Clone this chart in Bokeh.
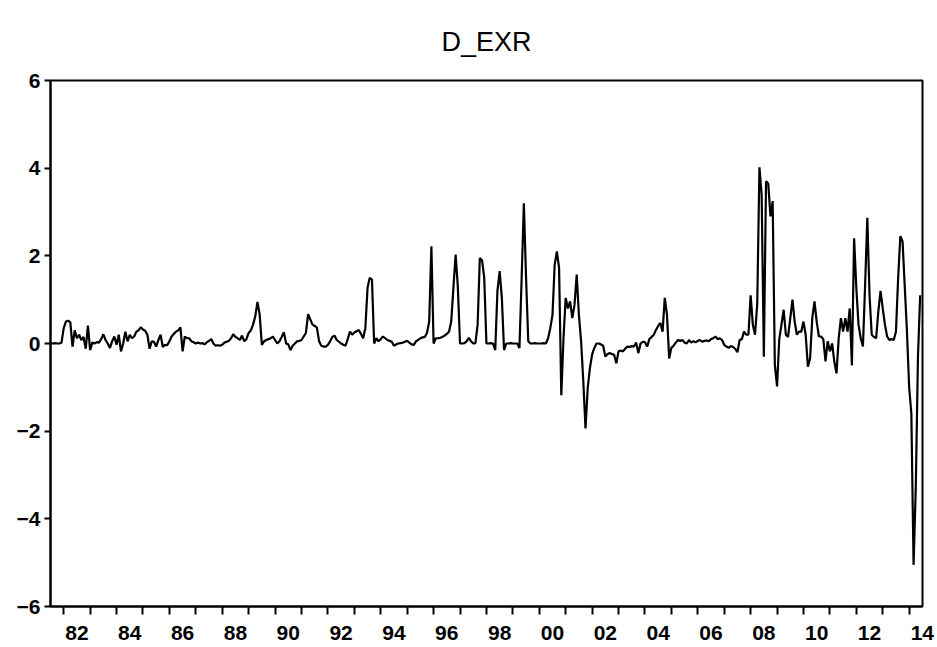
from bokeh.plotting import figure
from bokeh.models import FixedTicker, Range1d, ColumnDataSource, CustomJSTickFormatter
from bokeh.embed import file_html
from bokeh.resources import INLINE

# D_EXR, monthly, first observation 1981M07
start_year = 1981
start_month = 7

exr_1981_1989 = [
    0.0, 0.0, 0.01, 0.0, 0.0, 0.02,
    0.35, 0.5, 0.52, 0.48, -0.07, 0.3, 0.12, 0.2, 0.08, 0.15, -0.12, 0.41,
    -0.15, 0.02, 0.0, 0.03, 0.02, 0.1, 0.21, 0.08, 0.0, -0.1, 0.05, 0.16,
    -0.03, 0.2, -0.18, 0.0, 0.27, 0.05, 0.2, 0.12, 0.16, 0.27, 0.3, 0.37,
    0.32, 0.29, 0.2, -0.12, 0.05, 0.04, -0.07, 0.08, 0.2, -0.08, -0.03, -0.04,
    0.05, 0.16, 0.22, 0.27, 0.3, 0.37, -0.18, 0.16, 0.12, 0.12, 0.05, 0.03,
    0.0, 0.02, 0.0, 0.01, -0.02, 0.03, 0.06, 0.1, 0.0, -0.05, -0.04, -0.05,
    -0.03, 0.02, 0.04, 0.06, 0.12, 0.21, 0.15, 0.12, 0.08, 0.18, 0.05, 0.1,
    0.24, 0.3, 0.43, 0.62, 0.95, 0.66, -0.03, 0.05, 0.08, 0.1, 0.12, 0.16,
]
exr_1990_1999 = [
    0.08, 0.0, 0.05, 0.15, 0.26, 0.0, -0.02, -0.15, -0.05, 0.0, 0.05, 0.06,
    0.08, 0.16, 0.24, 0.67, 0.55, 0.43, 0.4, 0.36, 0.05, -0.05, -0.07, -0.07,
    -0.03, 0.05, 0.15, 0.18, 0.08, 0.04, 0.0, -0.03, -0.05, 0.1, 0.27, 0.2,
    0.25, 0.28, 0.31, 0.22, 0.12, 0.35, 1.27, 1.5, 1.46, 0.0, 0.12, 0.05,
    0.1, 0.16, 0.12, 0.08, 0.06, 0.04, -0.05, -0.02, 0.0, 0.01, 0.02, 0.04,
    0.06, 0.02, -0.02, -0.03, 0.05, 0.08, 0.12, 0.14, 0.15, 0.24, 0.5, 2.22,
    0.0, 0.12, 0.12, 0.13, 0.15, 0.18, 0.22, 0.27, 0.5, 1.27, 2.03, 1.3,
    0.0, 0.0, 0.01, 0.05, 0.13, 0.05, 0.0, 0.01, 0.43, 1.95, 1.9, 1.5,
    0.0, 0.0, 0.01, 0.0, -0.15, 1.2, 1.65, 1.04, -0.15, 0.0, 0.0, 0.01,
    0.0, 0.0, 0.0, -0.1, 1.5, 3.2, 1.5, 0.05, 0.0, 0.0, 0.01, 0.0,
]
exr_2000_2009 = [
    0.0, 0.0, 0.01, 0.0, 0.12, 0.35, 0.65, 1.8, 2.1, 1.72, -1.18, 0.12,
    1.04, 0.8, 0.96, 0.58, 0.88, 1.57, 0.65, 0.05, -0.87, -1.94, -1.02, -0.56,
    -0.25, -0.1, 0.0, 0.0, -0.02, -0.05, -0.3, -0.24, -0.22, -0.24, -0.26, -0.45,
    -0.18, -0.16, -0.18, -0.12, -0.07, -0.08, -0.06, -0.07, 0.02, -0.22, 0.0, 0.04,
    0.03, -0.07, 0.1, 0.15, 0.2, 0.31, 0.4, 0.47, 0.27, 1.04, 0.66, -0.34,
    -0.1, -0.05, 0.02, 0.08, 0.06, 0.08, 0.02, 0.0, 0.08, 0.02, 0.05, 0.03,
    0.06, 0.08, 0.04, 0.06, 0.07, 0.05, 0.1, 0.12, 0.16, 0.1, 0.12, 0.08,
    -0.03, -0.07, -0.1, -0.06, -0.08, -0.12, -0.2, 0.08, 0.1, 0.27, 0.2, 0.2,
    1.1, 0.43, 0.2, 0.9, 4.02, 3.4, -0.3, 3.7, 3.65, 2.9, 3.25, -0.5,
    -0.98, 0.1, 0.43, 0.77, 0.2, 0.15, 0.58, 1.0, 0.5, 0.2, 0.27, 0.27,
]
exr_2010_2014 = [
    0.5, 0.2, -0.53, -0.34, 0.58, 0.96, 0.5, 0.16, 0.16, 0.1, -0.41, 0.05,
    -0.18, 0.0, -0.41, -0.68, 0.12, 0.58, 0.27, 0.58, 0.27, 0.8, -0.5, 2.4,
    1.27, 0.43, 0.12, -0.07, 1.34, 2.87, 1.1, 0.2, 0.15, 0.12, 0.73, 1.2,
    0.8, 0.43, 0.16, 0.08, 0.1, 0.08, 0.27, 1.5, 2.45, 2.33, 1.3, 0.27,
    -1.0, -1.6, -5.05, -3.3, -0.3, 1.1,
]

tick_years = list(range(1982, 2015))
label_years = list(range(1982, 2015, 2))
tick_labels = ["82", "84", "86", "88", "90", "92", "94", "96", "98",
               "00", "02", "04", "06", "08", "10", "12", "14"]
y_ticks = [-6, -4, -2, 0, 2, 4, 6]

values = exr_1981_1989 + exr_1990_1999 + exr_2000_2009 + exr_2010_2014
dates = [start_year + (start_month - 1 + k) / 12.0 for k in range(len(values))]
src = ColumnDataSource(data=dict(x=dates, y=values))

FONT = "Liberation Sans"

p = figure(width=937, height=647, output_backend="svg", toolbar_location=None,
           x_range=Range1d(1981.5, 2014.505), y_range=Range1d(-6, 6),
           min_border_left=50, min_border_right=15, min_border_top=80,
           min_border_bottom=41, title="D_EXR", background_fill_color="white",
           border_fill_color="white")

p.line(x="x", y="y", source=src, line_color="black", line_width=2.2)

p.xgrid.visible = False
p.ygrid.visible = False
p.outline_line_color = "black"
p.outline_line_width = 2
p.outline_line_alpha = 1

p.title.align = "center"
p.title.text_font = FONT
p.title.text_font_size = "27px"
p.title.text_font_style = "normal"
p.title.text_color = "black"
p.title.standoff = 47

label_pos = [y + 0.5 for y in label_years]
p.xaxis.ticker = FixedTicker(ticks=label_pos, minor_ticks=tick_years)
p.xaxis.formatter = CustomJSTickFormatter(
    args=dict(pos=label_pos, labels=tick_labels),
    code="""
    for (let k = 0; k < pos.length; k++) {
        if (Math.abs(pos[k] - tick) < 1e-6) { return labels[k]; }
    }
    return '';
    """)
p.xaxis.major_tick_out = 0
p.xaxis.major_tick_in = 0
p.xaxis.minor_tick_out = 8
p.xaxis.minor_tick_in = 0
p.xaxis.minor_tick_line_width = 2
p.xaxis.minor_tick_line_color = "black"
p.xaxis.major_label_standoff = 11

p.yaxis.ticker = FixedTicker(ticks=y_ticks, minor_ticks=[])
p.yaxis.major_tick_out = 6
p.yaxis.major_tick_in = 0
p.yaxis.major_tick_line_width = 2
p.yaxis.major_label_standoff = 4

for ax in (p.xaxis, p.yaxis):
    ax.axis_line_width = 2
    ax.axis_line_color = "black"
    ax.major_tick_line_color = "black"
    ax.major_label_text_font = FONT
    ax.major_label_text_font_size = "21px"
    ax.major_label_text_font_style = "bold"
    ax.major_label_text_color = "black"

open("out.html", "w").write(file_html(p, INLINE))
